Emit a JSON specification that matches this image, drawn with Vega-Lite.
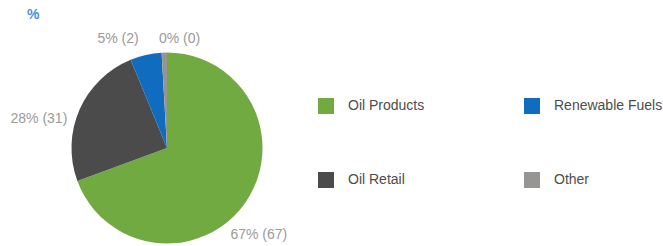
{
  "$schema": "https://vega.github.io/schema/vega-lite/v6.json",
  "width": 334,
  "height": 196,
  "autosize": {"type": "none"},
  "padding": {"left": 0, "top": 50, "right": 329, "bottom": 0},
  "background": "#ffffff",
  "title": {
    "text": "%",
    "anchor": "start",
    "frame": "group",
    "fontSize": 14,
    "fontWeight": "bold",
    "font": "Liberation Sans",
    "color": "#4a8fd6",
    "dx": 27,
    "offset": 7
  },
  "data": {
    "values": [
      {"name": "Oil Products", "share": 69.4, "label": "67% (67)", "ord": 1},
      {"name": "Oil Retail", "share": 24.4, "label": "28% (31)", "ord": 2},
      {"name": "Renewable Fuels", "share": 5.3, "label": "5% (2)", "ord": 3},
      {"name": "Other", "share": 0.9, "label": "0% (0)", "ord": 4}
    ]
  },
  "encoding": {
    "theta": {"field": "share", "type": "quantitative", "stack": true},
    "order": {"field": "ord", "type": "quantitative", "sort": "ascending"}
  },
  "layer": [
    {
      "mark": {"type": "arc", "outerRadius": 95.5, "stroke": null},
      "encoding": {
        "color": {
          "field": "name",
          "type": "nominal",
          "scale": {
            "domain": ["Oil Products", "Oil Retail", "Renewable Fuels", "Other"],
            "range": ["#72aa42", "#4b4b4b", "#106cbe", "#979494"]
          },
          "legend": {
            "orient": "none",
            "legendX": 318,
            "legendY": 48,
            "columns": 2,
            "title": null,
            "symbolType": "square",
            "symbolSize": 256,
            "symbolStrokeWidth": 0,
            "symbolOpacity": 1,
            "labelFontSize": 14,
            "labelFont": "Liberation Sans",
            "labelColor": "#4d4d4d",
            "labelOffset": 14,
            "columnPadding": 99,
            "rowPadding": 58,
            "padding": 0,
            "labelBaseline": "middle",
            "labelLimit": 300,
            "encode": {"labels": {"update": {"dy": {"value": -3}}}}
          }
        }
      }
    },
    {
      "mark": {"type": "text", "radius": 110, "align": "right", "baseline": "middle", "dx": 30, "dy": 24, "fontSize": 14, "font": "Liberation Sans", "color": "#9a9a9a"},
      "encoding": {"text": {"condition": {"test": "datum.name === 'Oil Products'", "field": "label"}, "value": ""}}
    },
    {
      "mark": {"type": "text", "radius": 110, "align": "right", "baseline": "middle", "dx": 1, "dy": 15, "fontSize": 14, "font": "Liberation Sans", "color": "#9a9a9a"},
      "encoding": {"text": {"condition": {"test": "datum.name === 'Oil Retail'", "field": "label"}, "value": ""}}
    },
    {
      "mark": {"type": "text", "radius": 110, "align": "right", "baseline": "middle", "dx": -4, "dy": -2, "fontSize": 14, "font": "Liberation Sans", "color": "#9a9a9a"},
      "encoding": {"text": {"condition": {"test": "datum.name === 'Renewable Fuels'", "field": "label"}, "value": ""}}
    },
    {
      "mark": {"type": "text", "radius": 110, "align": "left", "baseline": "middle", "dx": -5, "dy": 1, "fontSize": 14, "font": "Liberation Sans", "color": "#9a9a9a"},
      "encoding": {"text": {"condition": {"test": "datum.name === 'Other'", "field": "label"}, "value": ""}}
    }
  ],
  "config": {"view": {"stroke": null}}
}
